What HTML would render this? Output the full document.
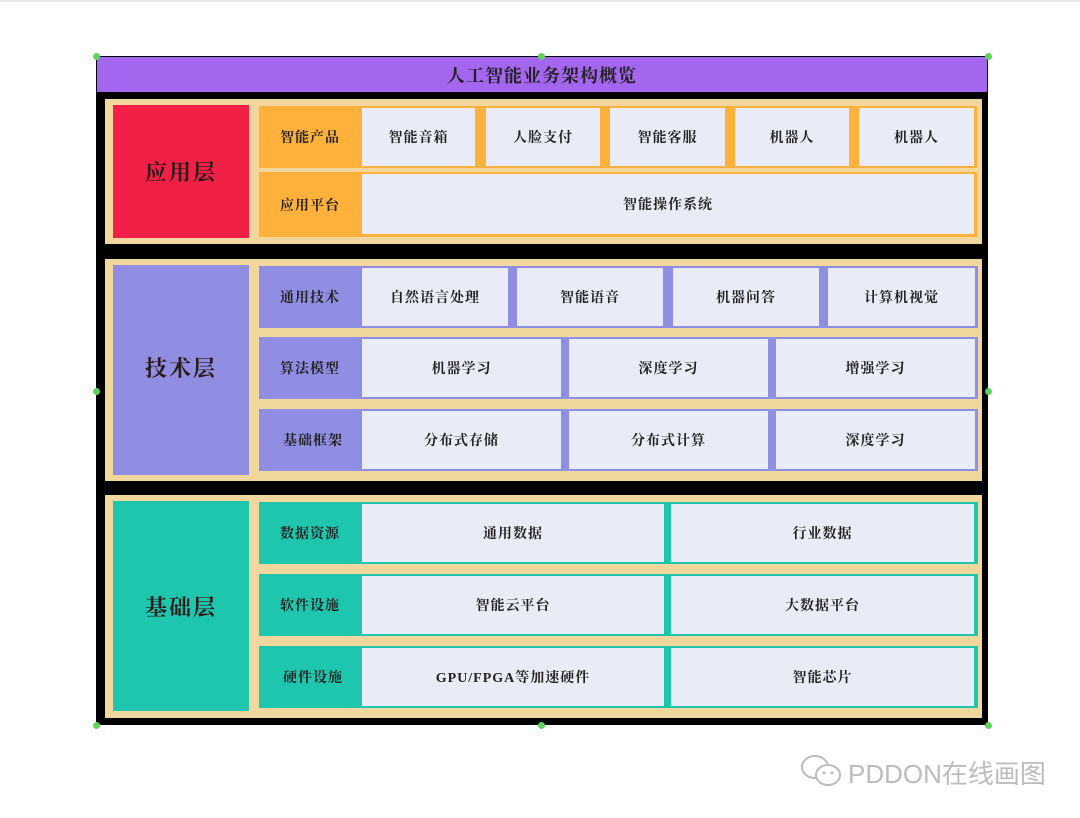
<!DOCTYPE html>
<html><head><meta charset="utf-8">
<style>
*{margin:0;padding:0;box-sizing:border-box}
body{width:1080px;height:818px;background:#fff;position:relative;overflow:hidden;font-family:"Liberation Serif","Noto Serif CJK SC",serif;color:#222}
div{position:absolute}
.c{display:flex;align-items:center;justify-content:center;font-size:14px;font-weight:bold;letter-spacing:1px}
.cell{background:#e9ecf6}
.big{font-size:22px;font-weight:bold;letter-spacing:2px;color:#2a1a1a}
.dot{width:7px;height:7px;border-radius:50%;background:#5fd35f;margin:-3.5px 0 0 -3.5px}
</style></head><body>
<div style="left:0;top:0;width:1080px;height:2px;background:#e8e8e8"></div>
<div style="left:96px;top:56px;width:892px;height:669px;background:#000"></div>
<div class="c" style="left:97px;top:57px;width:890px;height:35px;background:#a466ee;font-size:18px;color:#222">人工智能业务架构概览</div>

<!-- layer 1 -->
<div style="left:105px;top:99px;width:877px;height:145px;background:#f1d79d"></div>
<div class="c big" style="left:113px;top:105px;width:136px;height:133px;background:#f21f47">应用层</div>
<div style="left:259px;top:106px;width:718px;height:62px;background:#ffb13c"></div>
<div style="left:259px;top:172px;width:718px;height:65px;background:#ffb13c"></div>
<div class="c" style="left:259px;top:106px;width:102px;height:62px">智能产品</div>
<div class="c" style="left:259px;top:172px;width:102px;height:65px">应用平台</div>
<div class="c cell" style="left:362px;top:108px;width:113px;height:58px">智能音箱</div>
<div class="c cell" style="left:486px;top:108px;width:114px;height:58px">人脸支付</div>
<div class="c cell" style="left:610px;top:108px;width:115px;height:58px">智能客服</div>
<div class="c cell" style="left:735px;top:108px;width:114px;height:58px">机器人</div>
<div class="c cell" style="left:859px;top:108px;width:115px;height:58px">机器人</div>
<div class="c cell" style="left:362px;top:174px;width:612px;height:60px">智能操作系统</div>

<!-- layer 2 -->
<div style="left:105px;top:259px;width:877px;height:222px;background:#f1d79d"></div>
<div class="c big" style="left:113px;top:265px;width:136px;height:210px;background:#8f8ee2;padding-bottom:5px">技术层</div>
<div style="left:259px;top:266px;width:719px;height:62px;background:#8f8ee2"></div>
<div style="left:259px;top:337px;width:719px;height:62px;background:#8f8ee2"></div>
<div style="left:259px;top:409px;width:719px;height:62px;background:#8f8ee2"></div>
<div class="c" style="left:259px;top:266px;width:102px;height:62px">通用技术</div>
<div class="c" style="left:259px;top:337px;width:102px;height:62px">算法模型</div>
<div class="c" style="left:262px;top:409px;width:102px;height:62px">基础框架</div>
<div class="c cell" style="left:362px;top:268px;width:146px;height:58px">自然语言处理</div>
<div class="c cell" style="left:517px;top:268px;width:146px;height:58px">智能语音</div>
<div class="c cell" style="left:673px;top:268px;width:146px;height:58px">机器问答</div>
<div class="c cell" style="left:828px;top:268px;width:147px;height:58px">计算机视觉</div>
<div class="c cell" style="left:362px;top:339px;width:199px;height:58px">机器学习</div>
<div class="c cell" style="left:569px;top:339px;width:199px;height:58px">深度学习</div>
<div class="c cell" style="left:776px;top:339px;width:199px;height:58px">增强学习</div>
<div class="c cell" style="left:362px;top:411px;width:199px;height:58px">分布式存储</div>
<div class="c cell" style="left:569px;top:411px;width:199px;height:58px">分布式计算</div>
<div class="c cell" style="left:776px;top:411px;width:199px;height:58px">深度学习</div>

<!-- layer 3 -->
<div style="left:105px;top:495px;width:877px;height:223px;background:#f1d79d"></div>
<div class="c big" style="left:113px;top:501px;width:136px;height:210px;background:#1ec6ad">基础层</div>
<div style="left:259px;top:502px;width:719px;height:62px;background:#1ec6ad"></div>
<div style="left:259px;top:574px;width:719px;height:62px;background:#1ec6ad"></div>
<div style="left:259px;top:646px;width:719px;height:62px;background:#1ec6ad"></div>
<div class="c" style="left:259px;top:502px;width:102px;height:62px">数据资源</div>
<div class="c" style="left:259px;top:574px;width:102px;height:62px">软件设施</div>
<div class="c" style="left:262px;top:646px;width:102px;height:62px">硬件设施</div>
<div class="c cell" style="left:362px;top:504px;width:302px;height:58px">通用数据</div>
<div class="c cell" style="left:671px;top:504px;width:303px;height:58px">行业数据</div>
<div class="c cell" style="left:362px;top:576px;width:302px;height:58px">智能云平台</div>
<div class="c cell" style="left:671px;top:576px;width:303px;height:58px">大数据平台</div>
<div class="c cell" style="left:362px;top:648px;width:302px;height:58px">GPU/FPGA等加速硬件</div>
<div class="c cell" style="left:671px;top:648px;width:303px;height:58px">智能芯片</div>

<!-- dots -->
<div class="dot" style="left:96px;top:56px"></div>
<div class="dot" style="left:541px;top:56px"></div>
<div class="dot" style="left:988px;top:56px"></div>
<div class="dot" style="left:96px;top:391px"></div>
<div class="dot" style="left:988px;top:391px"></div>
<div class="dot" style="left:96px;top:725px"></div>
<div class="dot" style="left:541px;top:725px"></div>
<div class="dot" style="left:988px;top:725px"></div>

<!-- watermark -->
<svg style="position:absolute;left:800px;top:753px" width="44" height="36" viewBox="0 0 44 36">
<ellipse cx="15" cy="14" rx="13" ry="11" fill="none" stroke="#bbb" stroke-width="2"/>
<ellipse cx="28" cy="22" rx="12" ry="10" fill="#fff" stroke="#bbb" stroke-width="2"/>
<circle cx="24" cy="20" r="1.5" fill="#bbb"/><circle cx="32" cy="20" r="1.5" fill="#bbb"/>
</svg>
<div style="left:848px;top:754px;font-family:'Liberation Sans','Noto Sans CJK SC',sans-serif;font-size:26px;color:#bcbcbc;white-space:nowrap">PDDON在线画图</div>
</body></html>
